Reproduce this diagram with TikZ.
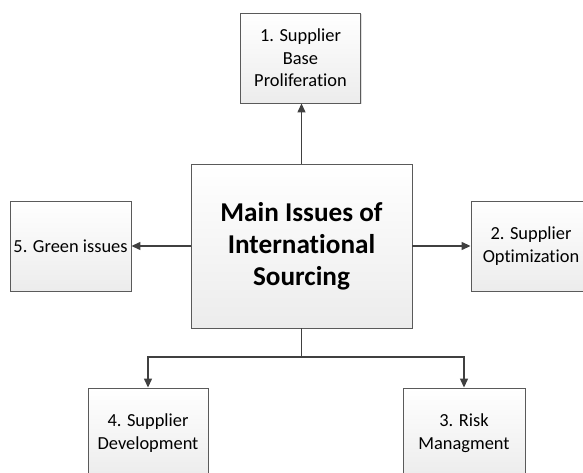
\documentclass[tikz,border=0pt]{standalone}
\usepackage{fontspec}
\setmainfont{Carlito}[Ligatures=NoCommon]
\usetikzlibrary{arrows.meta,shadows}
\definecolor{boxline}{RGB}{90,90,90}
\definecolor{arrowcol}{RGB}{64,64,64}
\definecolor{boxbottom}{RGB}{236,236,236}
\tikzset{
  issuebox/.style={draw=boxline, line width=0.9pt, top color=white, bottom color=boxbottom,
    minimum width=120pt, minimum height=90pt, align=center, inner sep=1pt,
    font=\fontsize{18.4}{22.5}\selectfont,
    drop shadow={shadow xshift=1pt, shadow yshift=-1pt, fill=black!20, opacity=0.6}},
  mainbox/.style={issuebox, minimum width=221pt, minimum height=164pt,
    font=\fontsize{27.2}{32}\selectfont\bfseries},
  conn/.style={draw=arrowcol, line width=1.3pt, -{Triangle[length=9pt,width=8pt]}},
  plain/.style={draw=arrowcol, line width=1.3pt}
}
\begin{document}
\begin{tikzpicture}[x=1pt,y=-1pt]
\useasboundingbox (0,0) rectangle (583,473);
\node[mainbox] (main) at (301.5,246) {Main Issues of\\International\\Sourcing};
\node[issuebox] (n1) at (300.5,58) {1. Supplier\\Base\\Proliferation};
\node[issuebox, minimum width=121pt] (n5) at (70.5,246) {5. Green issues};
\node[issuebox] (n2) at (531,246) {2. Supplier\\Optimization};
\node[issuebox] (n4) at (148,433) {4. Supplier\\Development};
\node[issuebox, minimum width=122pt] (n3) at (464,433) {3. Risk\\Managment};
\coordinate (bus) at (301.5,357);
\draw[conn] (main.north) -- (main.north |- n1.south);
\draw[conn] (main.west) -- (n5.east);
\draw[conn] (main.east) -- (n2.west);
\draw[plain] (main.south) -- (bus);
\draw[conn] (bus) -| (n4.north);
\draw[conn] (bus) -| (n3.north);
\end{tikzpicture}
\end{document}
